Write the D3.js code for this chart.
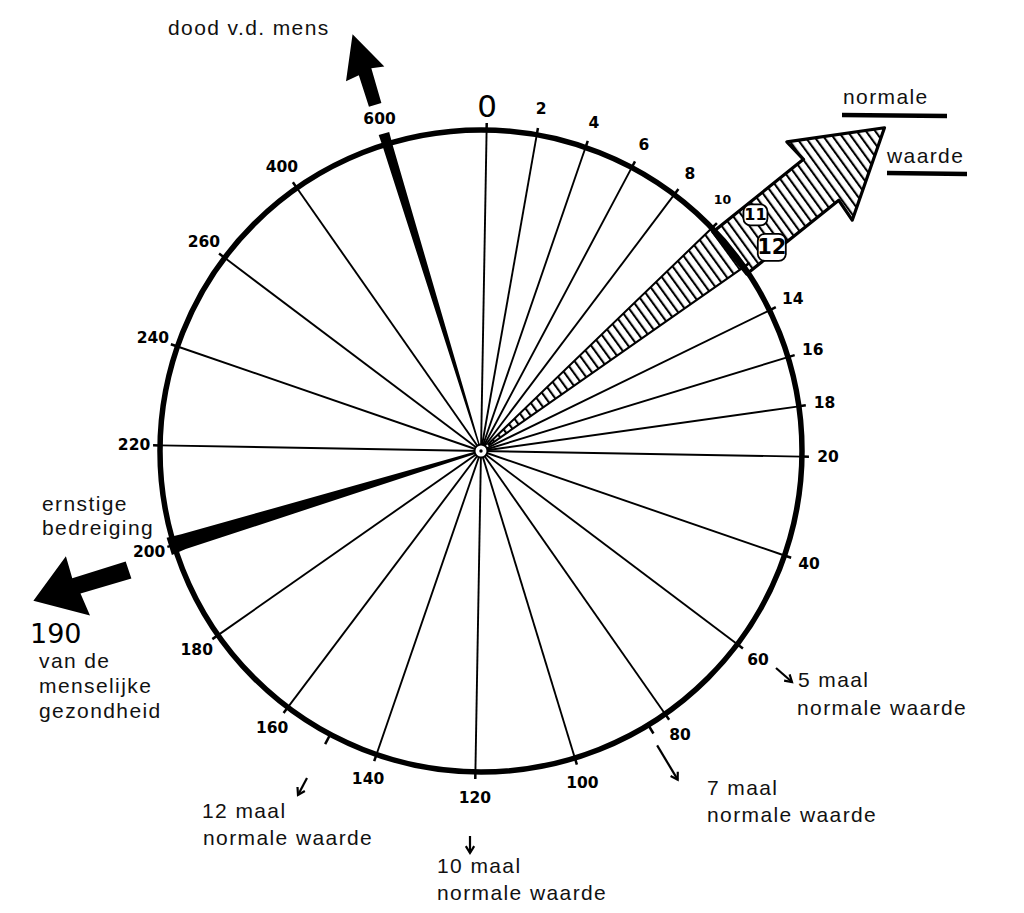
<!DOCTYPE html>
<html><head><meta charset="utf-8">
<script src="https://cdn.jsdelivr.net/npm/d3@7"></script>
<style>
body{margin:0;background:#fff;}
svg{display:block;}
.tk{font-family:"DejaVu Sans",sans-serif;font-weight:bold;fill:#000;}
.ann{font-family:"Liberation Sans",Arial,sans-serif;font-size:21px;letter-spacing:1.4px;fill:#111;}
</style></head><body>
<svg id="c" width="1024" height="913"></svg>
<script>
// ---- data ----
const dialValues = [0,2,4,6,8,10,12,14,16,18,20,40,60,80,100,120,140,160,180,200,220,240,260,400,600];
const dialLabels = ["0","2","4","6","8","10","12","14","16","18","20","40","60","80","100","120","140","160","180","200","220","240","260","400","600"];
const normalRange = [10, 12];
const normalBoxLabels = ["11", "12"];
const normalBoxValues = [11, 12];
const deathValue = 600;
const threatValue = 200;
const threatLabel = "190";
const multipleValues = [60, 84, 120, 150];
const multipleLabels = ["5 maal", "7 maal", "10 maal", "12 maal"];
const annotationTexts = ["dood v.d. mens", "normale", "waarde", "ernstige", "bedreiging", "van de", "menselijke", "gezondheid", "normale waarde"];

// ---- layout ----
const W = 1024, H = 913, cx = 481, cy = 451, R = 321;
const svg = d3.select("#c");
svg.append("rect").attr("width", W).attr("height", H).attr("fill", "#fff");

// piecewise angular scale (degrees clockwise from north)
const angle = d3.scaleLinear().domain([0, 20, 260, 400, 600]).range([1, 91, 307, 325, 343]);
const rad = d => d * Math.PI / 180;
function polar(a, r) { return [cx + r * Math.sin(rad(a)), cy - r * Math.cos(rad(a))]; }
function along(a, u, n) {
  const p = polar(a, u);
  return [p[0] + n * Math.cos(rad(a)), p[1] + n * Math.sin(rad(a))];
}
const line = d3.line();

// hatch pattern
const defs = svg.append("defs");
const pat = defs.append("pattern").attr("id", "hatch").attr("patternUnits", "userSpaceOnUse")
  .attr("width", 7.5).attr("height", 7.5).attr("patternTransform", "rotate(-36)");
pat.append("rect").attr("width", 7.5).attr("height", 7.5).attr("fill", "#fff");
pat.append("line").attr("x1", 1).attr("y1", 0).attr("x2", 1).attr("y2", 7.5)
  .attr("stroke", "#000").attr("stroke-width", 2.2);

const g = svg.append("g");

// spokes
const skip = new Set([deathValue, threatValue, ...normalRange]);
g.selectAll("line.spoke").data(dialValues.filter(v => !skip.has(v))).join("line")
  .attr("class", "spoke")
  .attr("x1", cx).attr("y1", cy)
  .attr("x2", d => polar(angle(d), R)[0]).attr("y2", d => polar(angle(d), R)[1])
  .attr("stroke", "#000").attr("stroke-width", 1.9);

// hatched normal wedge
const arc = d3.arc();
g.append("path")
  .attr("transform", `translate(${cx},${cy})`)
  .attr("d", arc({innerRadius: 10, outerRadius: R, startAngle: rad(angle(normalRange[0])), endAngle: rad(angle(normalRange[1]))}))
  .attr("fill", "url(#hatch)").attr("stroke", "#000").attr("stroke-width", 2);

// normal arrow (outside circle)
const aN = angle((normalRange[0] + normalRange[1]) / 2) + 0.8;
const arrowPts = [
  along(aN, R - 3, -26), along(aN, 434, -26), along(aN, 432, -50), along(aN, 517, 0),
  along(aN, 434, 52), along(aN, 436, 28), along(aN, R - 3, 28)
];
g.append("path").attr("d", line(arrowPts) + "Z")
  .attr("fill", "url(#hatch)").attr("stroke", "#000").attr("stroke-width", 3.2)
  .attr("stroke-linejoin", "round");

// death wedge (600)
const aD = angle(deathValue);
g.append("path").attr("d", line([along(aD, 0, -0.6), along(aD, R, -5), along(aD, R + 11, -5.5),
  along(aD, R + 11, 5.5), along(aD, R, 5), along(aD, 0, 0.6)]) + "Z").attr("fill", "#000");

// threat wedge (200)
const aT = angle(threatValue);
g.append("path").attr("d", line([along(aT, 0, -1), along(aT, R - 10, -7.5), along(aT, R + 5, -9),
  along(aT, R + 5, 9), along(aT, R - 10, 8), along(aT, 0, 1)]) + "Z").attr("fill", "#000");

// outer circle
g.append("circle").attr("cx", cx).attr("cy", cy).attr("r", R)
  .attr("fill", "none").attr("stroke", "#000").attr("stroke-width", 5.5);

// small ticks outward
g.selectAll("line.tick").data(dialValues).join("line")
  .attr("x1", d => polar(angle(d), R)[0]).attr("y1", d => polar(angle(d), R)[1])
  .attr("x2", d => polar(angle(d), R + 7)[0]).attr("y2", d => polar(angle(d), R + 7)[1])
  .attr("stroke", "#000").attr("stroke-width", 2.5);

// center hub
g.append("circle").attr("cx", cx).attr("cy", cy).attr("r", 6.5).attr("fill", "#fff").attr("stroke", "#000").attr("stroke-width", 2);
g.append("circle").attr("cx", cx).attr("cy", cy).attr("r", 1.7).attr("fill", "#000");

// dial labels
const LR = R + 26;
function labelPos(v) {
  if (v === 0) return polar(angle(v), LR - 2);
  if (v === 10) return polar(angle(v) - 2.2, LR + 2);
  return polar(angle(v), LR);
}
const lab = dialValues.map((v, i) => ({v, t: dialLabels[i]})).filter(d => !normalBoxValues.includes(d.v));
g.selectAll("text.tk").data(lab).join("text")
  .attr("class", "tk")
  .attr("x", d => labelPos(d.v)[0])
  .attr("y", d => labelPos(d.v)[1])
  .attr("text-anchor", "middle").attr("dominant-baseline", "central")
  .style("font-size", d => d.v === 0 ? "31px" : (d.v === 10 ? "12.5px" : "15.5px"))
  .style("font-weight", d => d.v === 0 ? "normal" : "bold")
  .text(d => d.t);

// boxed 11 / 12 labels
normalBoxValues.forEach((v, i) => {
  const p = i === 0 ? polar(angle(v) - 1.2, 362) : polar(angle(v), 355);
  const w = i === 0 ? 24 : 28, h = i === 0 ? 21 : 27;
  g.append("rect").attr("x", p[0] - w / 2).attr("y", p[1] - h / 2).attr("width", w).attr("height", h)
    .attr("rx", 7).attr("fill", "#fff").attr("stroke", "#000").attr("stroke-width", 1.8);
  g.append("text").attr("class", "tk").attr("x", p[0]).attr("y", p[1])
    .attr("text-anchor", "middle").attr("dominant-baseline", "central")
    .style("font-size", i === 0 ? "16px" : "21px").text(normalBoxLabels[i]);
});

// death arrow
g.append("path").attr("d", line([along(aD, 362, -6.5), along(aD, 395, -7), along(aD, 393, -21),
  along(aD, 436, -1), along(aD, 396, 20), along(aD, 398, 7), along(aD, 362, 6.5)]) + "Z").attr("fill", "#000");

// threat arrow
const aTA = aT - 1.5;
g.append("path").attr("d", line([along(aTA, 372, -10), along(aTA, 425, -8), along(aTA, 423, -32),
  along(aTA, 472, 0), along(aTA, 427, 32), along(aTA, 428, 9), along(aTA, 372, 8)]) + "Z").attr("fill", "#000");

// small open arrows
function openArrow(x1, y1, x2, y2) {
  g.append("path").attr("d", line([[x1, y1], [x2, y2]]))
    .attr("stroke", "#000").attr("stroke-width", 2.2).attr("fill", "none");
  const a = Math.atan2(y2 - y1, x2 - x1), s = 8, w = 0.55;
  g.append("path").attr("d", line([[x2 - s * Math.cos(a - w), y2 - s * Math.sin(a - w)], [x2, y2],
    [x2 - s * Math.cos(a + w), y2 - s * Math.sin(a + w)]]))
    .attr("stroke", "#000").attr("stroke-width", 2.2).attr("fill", "none");
}
// multiples markers
multipleValues.forEach((v) => {
  const a = angle(v);
  if (v === 84) {
    const p1 = polar(a, R), p2 = polar(a, R + 10);
    g.append("line").attr("x1", p1[0]).attr("y1", p1[1]).attr("x2", p2[0]).attr("y2", p2[1]).attr("stroke", "#000").attr("stroke-width", 2.5);
    const q1 = polar(a + 0.5, R + 22), q2 = polar(a + 0.5, R + 62);
    openArrow(q1[0], q1[1], q2[0], q2[1]);
  }
  if (v === 150) {
    const p1 = polar(a, R), p2 = polar(a, R + 11);
    g.append("line").attr("x1", p1[0]).attr("y1", p1[1]).attr("x2", p2[0]).attr("y2", p2[1]).attr("stroke", "#000").attr("stroke-width", 2.5);
  }
});
openArrow(776, 668, 792, 682);
openArrow(307, 778, 298, 795);
openArrow(470, 836, 470, 853);

// annotation texts
const ann = [
  [annotationTexts[0], 168, 35],
  [annotationTexts[1], 843, 104],
  [annotationTexts[2], 887, 163],
  [annotationTexts[3], 42, 511],
  [annotationTexts[4], 42, 535],
  [annotationTexts[5], 39, 668],
  [annotationTexts[6], 39, 693],
  [annotationTexts[7], 39, 718],
  [multipleLabels[0], 798, 687], [annotationTexts[8], 797, 715],
  [multipleLabels[1], 707, 795], [annotationTexts[8], 707, 822],
  [multipleLabels[3], 202, 818], [annotationTexts[8], 203, 845],
  [multipleLabels[2], 437, 873], [annotationTexts[8], 437, 900]
];
g.selectAll("text.ann").data(ann).join("text").attr("class", "ann")
  .attr("x", d => d[1]).attr("y", d => d[2]).text(d => d[0]);

// underlines
g.append("line").attr("x1", 842).attr("y1", 115).attr("x2", 947).attr("y2", 116).attr("stroke", "#000").attr("stroke-width", 4.5);
g.append("line").attr("x1", 887).attr("y1", 173).attr("x2", 967).attr("y2", 174).attr("stroke", "#000").attr("stroke-width", 4.5);

// 190 label
g.append("text").attr("x", 30).attr("y", 643).style("font-family", "DejaVu Sans, sans-serif")
  .style("font-size", "27px").attr("fill", "#000").text(threatLabel);
</script>
</body></html>
